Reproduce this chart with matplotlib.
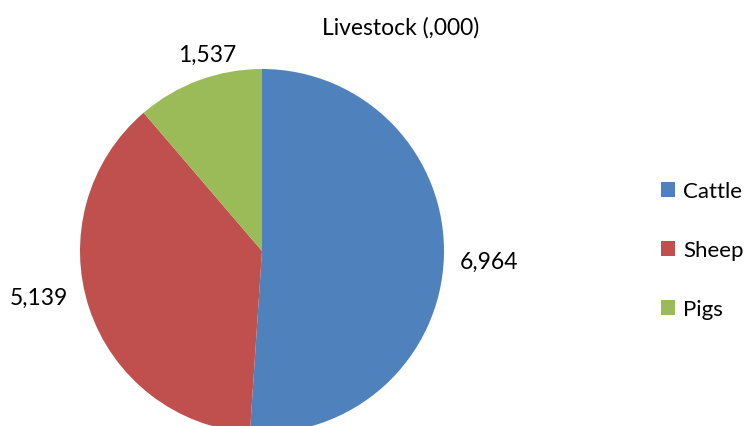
import numpy as np
import matplotlib.pyplot as plt
from matplotlib.patches import Patch

categories = ["Cattle", "Sheep", "Pigs"]
values = [6964, 5139, 1537]
value_labels = ["6,964", "5,139", "1,537"]
colors = ["#4F81BD", "#C0504D", "#9BBB59"]

plt.rcParams["font.family"] = ["Lato", "DejaVu Sans"]

W, H = 750, 427
fig = plt.figure(figsize=(W / 100, H / 100), dpi=100)
ax = fig.add_axes([0, 0, 1, 1])

# pie centre and radius in pixel units (y measured upward)
cx, cy, r = 262, H - 252, 182

wedges, texts = ax.pie(
    values,
    labels=value_labels,
    colors=colors,
    startangle=90,
    counterclock=False,
    center=(cx, cy),
    radius=r,
    labeldistance=1.24,
    textprops={"fontsize": 16.5, "color": "#000000"},
    wedgeprops={"linewidth": 0},
)

# nudge labels like Excel's best-fit placement: (radius factor, angle shift in degrees)
label_tweaks = [(1.25, -0.6), (1.25, -6.7), (1.12, -4.7)]
for w, t, (dist, shift) in zip(wedges, texts, label_tweaks):
    ang = np.deg2rad((w.theta1 + w.theta2) / 2 + shift)
    t.set_position((cx + dist * r * np.cos(ang), cy + dist * r * np.sin(ang)))
    t.set_ha("center")
    t.set_va("center")

ax.set_xlim(0, W)
ax.set_ylim(0, H)
ax.set_aspect("equal")
ax.axis("off")

ax.text(401, H - 28, "Livestock (,000)", ha="center", va="center", fontsize=16.5)

handles = [Patch(facecolor=c, edgecolor="none") for c in colors]
fig.legend(
    handles,
    categories,
    loc="center left",
    bbox_to_anchor=(641 / W, 1 - 251 / H),
    frameon=False,
    fontsize=16,
    handlelength=0.65,
    handleheight=0.65,
    handletextpad=0.35,
    labelspacing=1.75,
)

fig.savefig("out.png", dpi=100)
